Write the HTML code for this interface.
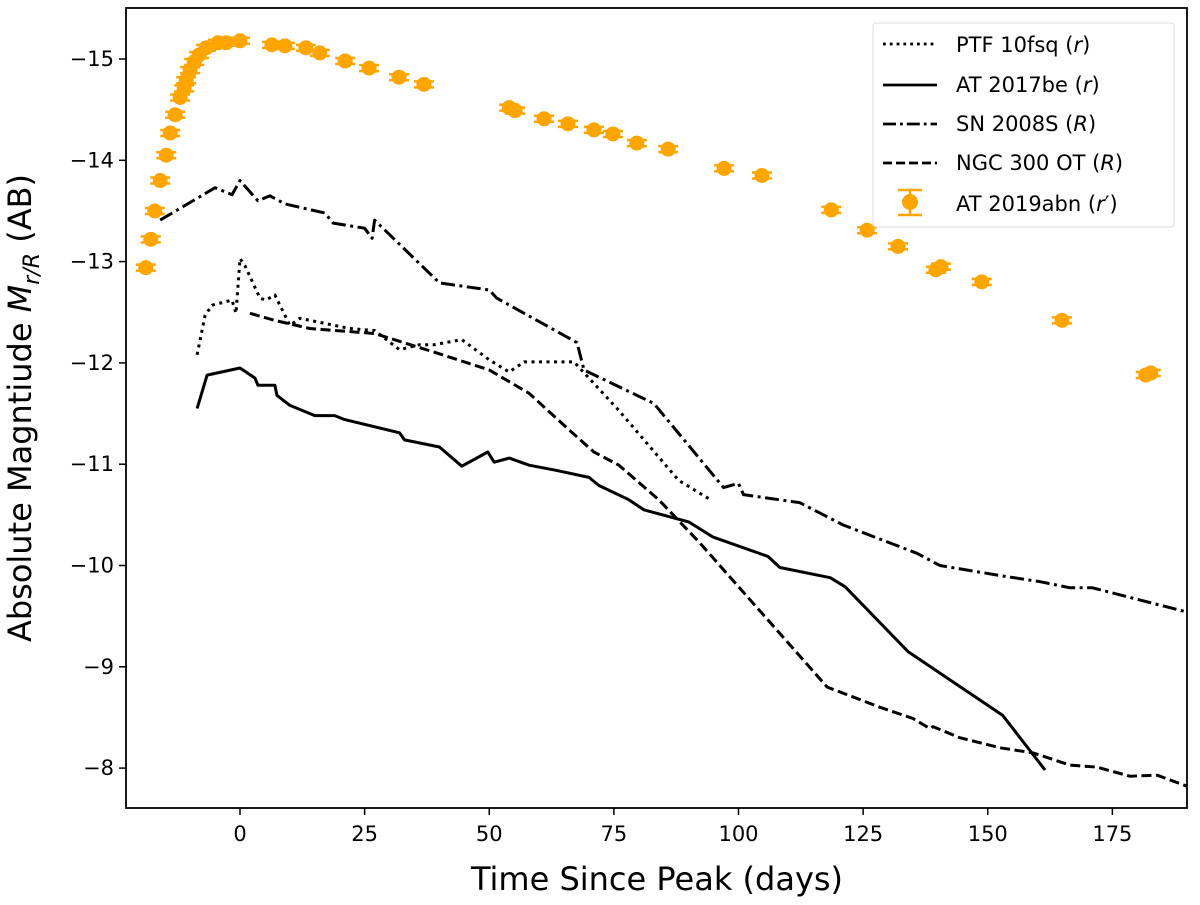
<!DOCTYPE html>
<html><head><meta charset="utf-8"><style>
body{margin:0;background:#fff}
svg text{font-family:"DejaVu Sans","Liberation Sans",sans-serif;fill:#000}
</style></head><body>
<svg id="chart" width="1200" height="900">
<rect x="126" y="8" width="1061" height="800" fill="none" stroke="#000" stroke-width="1.8"/>
<g id="series"></g>
<g id="axes"></g>
<text x="657" y="890" font-size="32" text-anchor="middle">Time Since Peak (days)</text>
<text transform="translate(31,408) rotate(-90)" font-size="32" text-anchor="middle">Absolute Magntiude <tspan font-style="italic">M</tspan><tspan font-size="22" dy="8" font-style="italic">r/R</tspan><tspan dy="-8"> (AB)</tspan></text>
<g>
<rect x="873" y="23" width="301" height="204" rx="3" fill="#fff" fill-opacity="0.8" stroke="#ddd" stroke-width="1"/>
<line x1="883" y1="44" x2="937" y2="44" stroke="#000" stroke-width="2.8" stroke-dasharray="2.8,4"/>
<text x="956" y="52" font-size="21">PTF 10fsq (<tspan font-style="italic">r</tspan>)</text>
<line x1="883" y1="85" x2="937" y2="85" stroke="#000" stroke-width="2.8"/>
<text x="956" y="92" font-size="21">AT 2017be (<tspan font-style="italic">r</tspan>)</text>
<line x1="883" y1="124" x2="937" y2="124" stroke="#000" stroke-width="2.8" stroke-dasharray="13,4,2.8,4"/>
<text x="956" y="131" font-size="21">SN 2008S (<tspan font-style="italic">R</tspan>)</text>
<line x1="883" y1="163" x2="937" y2="163" stroke="#000" stroke-width="2.8" stroke-dasharray="9,4"/>
<text x="956" y="170" font-size="21">NGC 300 OT (<tspan font-style="italic">R</tspan>)</text>
<g stroke="#ffa500" stroke-width="2.5">
<line x1="910" y1="190" x2="910" y2="215"/><line x1="898" y1="190" x2="922" y2="190"/><line x1="898" y1="215" x2="922" y2="215"/>
<circle cx="910" cy="202" r="8" fill="#ffa500" stroke="none"/></g>
<text x="956" y="211" font-size="21">AT 2019abn (<tspan font-style="italic">r</tspan>′)</text>
</g>
</svg>
<script>
const xTicks=[0,25,50,75,100,125,150,175];
const yTicks=[-15,-14,-13,-12,-11,-10,-9,-8];
const abnDays=[-18.9,-17.9,-17.1,-16.0,-14.8,-14.0,-13.0,-12.0,-11.2,-10.8,-10.0,-9.2,-8.2,-6.8,-4.4,-2.8,0,6.4,9.0,13.2,16.0,21.1,25.9,31.9,36.9,54.0,55.2,61.0,65.8,71.0,74.8,79.6,85.9,97.1,104.7,118.6,125.8,132.0,139.6,140.6,148.8,164.9,181.7,182.7];
const abnMag=[-12.94,-13.22,-13.5,-13.8,-14.05,-14.27,-14.45,-14.62,-14.71,-14.79,-14.89,-14.97,-15.04,-15.11,-15.16,-15.16,-15.18,-15.14,-15.13,-15.11,-15.06,-14.98,-14.91,-14.82,-14.75,-14.52,-14.49,-14.41,-14.36,-14.30,-14.26,-14.17,-14.11,-13.92,-13.85,-13.51,-13.31,-13.15,-12.92,-12.95,-12.80,-12.42,-11.88,-11.90];
const snDays=[-16,-5,-1.6,0,3.6,6,9,17,18.7,25,26.5,27,40,50,51.5,67.6,69,83,97,100,101,112.3,121,135.8,140.4,152.5,160.5,166.5,171,190];
const snMag=[-13.41,-13.73,-13.66,-13.8,-13.6,-13.65,-13.57,-13.48,-13.38,-13.33,-13.23,-13.41,-12.79,-12.72,-12.64,-12.2,-11.93,-11.6,-10.77,-10.81,-10.7,-10.62,-10.4,-10.12,-10.0,-9.9,-9.84,-9.78,-9.78,-9.54];
const beDays=[-8.6,-6.6,0,3,3.6,7,7.4,10,15,19,21,32,33,40,44.5,49.7,51,54,58,63.4,70,72,78,81,90,94.9,105.9,108.3,118.4,121.4,134,153,161.5];
const beMag=[-11.55,-11.88,-11.95,-11.85,-11.78,-11.78,-11.68,-11.58,-11.48,-11.48,-11.44,-11.31,-11.24,-11.17,-10.98,-11.12,-11.02,-11.06,-10.99,-10.94,-10.87,-10.79,-10.65,-10.55,-10.43,-10.28,-10.09,-9.98,-9.88,-9.79,-9.15,-8.52,-7.98];
const ptfDays=[-8.6,-7,-5.6,-1.6,-0.8,0,1,4,5.2,7,10,12,22,27,32,36,39,44.5,50,54,57,67,76,88,94];
const ptfMag=[-12.08,-12.47,-12.57,-12.62,-12.49,-13.03,-12.96,-12.64,-12.62,-12.67,-12.37,-12.44,-12.34,-12.32,-12.13,-12.18,-12.18,-12.23,-12.03,-11.91,-12.01,-12.01,-11.53,-10.84,-10.66];
const ngcDays=[2,7,14,27,40,50,58,66,71,76,84,92.3,117.8,128.4,135,138.4,139,144.4,152.5,159.1,166.5,171.9,178.5,184,190];
const ngcMag=[-12.49,-12.42,-12.34,-12.29,-12.09,-11.93,-11.7,-11.34,-11.12,-10.99,-10.65,-10.22,-8.80,-8.60,-8.49,-8.39,-8.41,-8.30,-8.20,-8.15,-8.03,-8.01,-7.92,-7.93,-7.82];

const NS='http://www.w3.org/2000/svg';
const xs=d=>240+4.985*d;
const ys=m=>59+(m+15)*101.3;
const S=document.getElementById('series'),A=document.getElementById('axes');
function mk(tag,attrs,parent){const e=document.createElementNS(NS,tag);for(const k in attrs)e.setAttribute(k,attrs[k]);parent.appendChild(e);return e;}
function line(days,mags,dash,name){
  const p=mk('polyline',{points:days.map((d,i)=>xs(d).toFixed(1)+','+ys(mags[i]).toFixed(1)).join(' '),fill:'none',stroke:'#000','stroke-width':3,'stroke-dasharray':dash,'stroke-linejoin':'round'},S);
  
  
}
line(ptfDays,ptfMag,'3,4.5','ptf10fsq-line');
line(beDays,beMag,'none','at2017be-line');
line(snDays,snMag,'14,4.5,3,4.5','sn2008s-line');
line(ngcDays,ngcMag,'10,4.5','ngc300ot-line');
abnDays.forEach((d,i)=>{
  const g=mk('g',{stroke:'#ffa500','stroke-width':2.5},S);
  
  
  const x=xs(d),y=ys(abnMag[i]);
  mk('line',{x1:x-10,y1:y-3,x2:x+10,y2:y-3},g);
  mk('line',{x1:x-10,y1:y+3,x2:x+10,y2:y+3},g);
  mk('circle',{cx:x,cy:y,r:7.5,fill:'#ffa500',stroke:'none'},g);
});
xTicks.forEach(t=>{
  const x=xs(t);
  const l=mk('line',{x1:x,y1:808,x2:x,y2:815,stroke:'#000','stroke-width':1.5},A);
  
  
  const tx=mk('text',{x:x,y:841,'font-size':21,'text-anchor':'middle'},A);
  tx.textContent=t;
  
  
});
yTicks.forEach(t=>{
  const y=ys(t);
  const l=mk('line',{x1:119,y1:y,x2:126,y2:y,stroke:'#000','stroke-width':1.5},A);
  
  
  const tx=mk('text',{x:114,y:y+7,'font-size':21,'text-anchor':'end'},A);
  tx.textContent='\u2212'+Math.abs(t);
  
  
});
</script>
</body></html>
